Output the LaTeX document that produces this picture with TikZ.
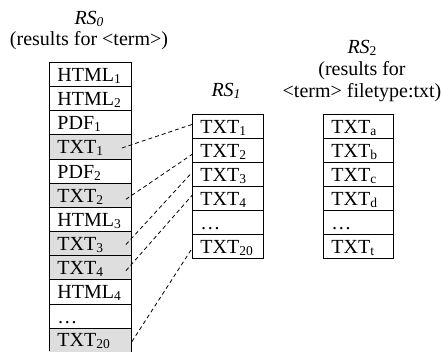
\documentclass[tikz,border=0pt]{standalone}
\usepackage{fontspec}
\setmainfont{Liberation Serif}
\usetikzlibrary{calc}
\definecolor{cellgray}{gray}{0.87}
% subscript: a smaller digit or letter set slightly below the baseline
\newcommand\sbs[1]{\raisebox{-2pt}{\fontsize{13.5}{14}\selectfont #1}}
\tikzset{
  cell/.style={draw, line width=0.9pt, anchor=north west, inner xsep=8pt, inner ysep=0pt,
    minimum height=24pt, text height=17pt, text depth=3pt, align=left,
    font=\fontsize{20}{24}\selectfont},
  col0/.style={cell, minimum width=82pt, text width=66pt, minimum height=24.15pt},
  col1/.style={cell, minimum width=71pt, text width=55pt},
  col2/.style={cell, minimum width=70pt, text width=54pt},
  txtrow/.style={fill=cellgray},
  title/.style={anchor=base, inner sep=0pt, font=\fontsize{20}{24}\selectfont},
  link/.style={line width=0.8pt, dash pattern=on 4pt off 3pt},
  edge/.style={line width=0.9pt},
}
\begin{document}
\begin{tikzpicture}[x=1pt, y=-1pt]
\useasboundingbox (0,0) rectangle (443,351);

% column headings
\node[title] (h0a) at (89,24) {\textit{RS\sbs{0}}};
\node[title] (h0b) at (89,45) {(results for <term>)};
\node[title] (h1a) at (226,96) {\textit{RS\sbs{1}}};
\node[title] (h2a) at (362,53) {\textit{RS}\sbs{2}};
\node[title] (h2b) at (362,75) {(results for};
\node[title] (h2c) at (362,97) {<term> filetype:txt)};

% RS0: all results
\node[col0] (a1) at (49,62) {HTML\sbs{1}};
\node[col0] (a2) at (49,86.15) {HTML\sbs{2}};
\node[col0] (a3) at (49,110.3) {PDF\sbs{1}};
\node[col0, txtrow] (a4) at (49,134.45) {TXT\sbs{1}};
\node[col0] (a5) at (49,158.6) {PDF\sbs{2}};
\node[col0, txtrow] (a6) at (49,182.75) {TXT\sbs{2}};
\node[col0] (a7) at (49,206.9) {HTML\sbs{3}};
\node[col0, txtrow] (a8) at (49,231.05) {TXT\sbs{3}};
\node[col0, txtrow] (a9) at (49,255.2) {TXT\sbs{4}};
\node[col0] (a10) at (49,279.35) {HTML\sbs{4}};
\node[col0] (a11) at (49,303.5) {\ldots};
\node[col0, txtrow, minimum height=23pt] (a12) at (49,327.65) {TXT\sbs{20}};
% the last row runs on past the lower edge
\fill[cellgray] ($(a12.south west)+(0.45,-0.5)$) rectangle ($(a12.south east)+(-0.45,3)$);
\draw[edge] (a12.south west) -- ++(0,3) (a12.south east) -- ++(0,3);

% RS1: text results taken from RS0
\node[col1] (b1) at (192,114) {TXT\sbs{1}};
\node[col1] (b2) at (192,138) {TXT\sbs{2}};
\node[col1] (b3) at (192,162) {TXT\sbs{3}};
\node[col1] (b4) at (192,186) {TXT\sbs{4}};
\node[col1] (b5) at (192,210) {\ldots};
\node[col1] (b6) at (192,234) {TXT\sbs{20}};

% RS2: filetype-restricted results
\node[col2] (c1) at (323,114) {TXT\sbs{a}};
\node[col2] (c2) at (323,138) {TXT\sbs{b}};
\node[col2] (c3) at (323,162) {TXT\sbs{c}};
\node[col2] (c4) at (323,186) {TXT\sbs{d}};
\node[col2] (c5) at (323,210) {\ldots};
\node[col2] (c6) at (323,234) {TXT\sbs{t}};

% links between matching rows
\draw[link] ($(a4.east)+(-10,1)$) -- ($(b1.west)+(0,-2)$);
\draw[link] ($(a6.east)+(-6,4)$) -- ($(b2.west)+(0,4)$);
\draw[link] ($(a8.east)+(-6,1)$) -- ($(b3.west)+(0,-2)$);
\draw[link] ($(a9.east)+(-6,3)$) -- ($(b4.west)+(0,-3)$);
\draw[link] ($(a12.east)+(0,2)$) -- ($(b6.west)+(0,2)$);
\end{tikzpicture}
\end{document}
